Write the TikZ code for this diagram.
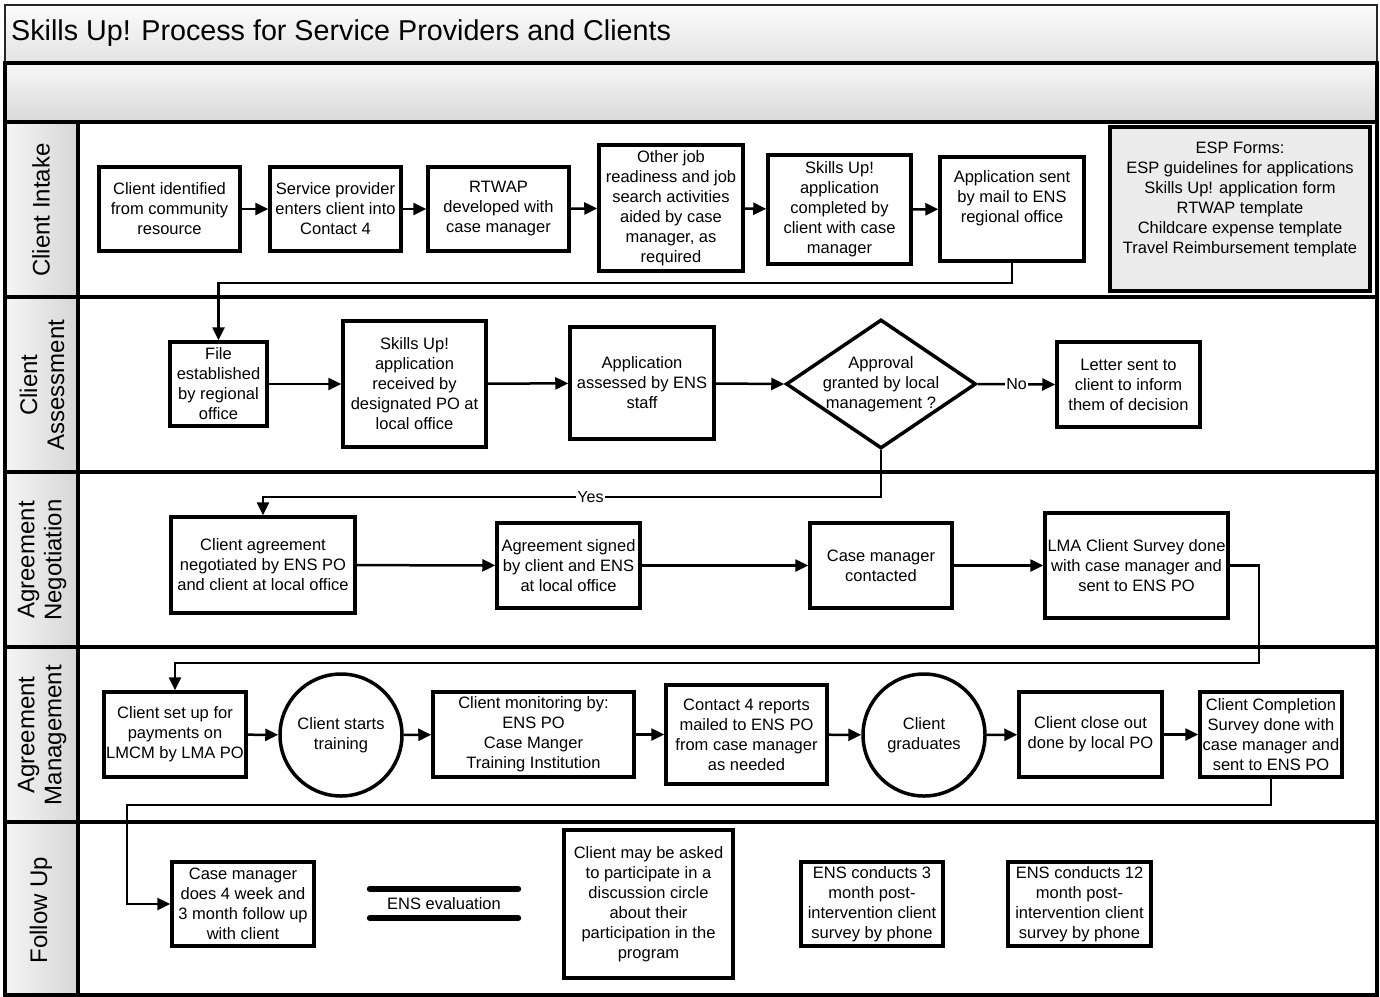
\documentclass[tikz,border=0pt]{standalone}
\usepackage{fontspec}
\setmainfont{Liberation Sans}
\usetikzlibrary{arrows.meta,shapes.geometric,calc}
\begin{document}
\begin{tikzpicture}[x=1pt,y=-1pt,
  box/.style={draw, line width=3.5pt, fill=white, align=center, inner sep=1pt,
    font=\fontsize{16.5}{20}\selectfont},
  circ/.style={draw, circle, line width=3.5pt, fill=white, align=center, inner sep=0pt,
    minimum size=122pt, font=\fontsize{16.5}{20}\selectfont},
  dia/.style={draw, diamond, line width=3.5pt, fill=white, inner sep=0pt,
    minimum width=190pt, minimum height=129pt},
  txt/.style={align=center, inner sep=0pt, font=\fontsize{16.5}{20}\selectfont},
  conn/.style={line width=2.5pt, -{Triangle[length=13pt,width=12pt]}},
  lbl/.style={fill=white, inner sep=1pt, font=\fontsize{16}{19}\selectfont},
  laneline/.style={line width=3.5pt, black},
  lanelbl/.style={align=center, inner sep=0pt, font=\fontsize{24}{27}\selectfont},
  dsline/.style={line width=6pt, line cap=round}
]
\useasboundingbox (0,0) rectangle (1380,996);
% backgrounds
\shade[top color=gray!3, bottom color=gray!22] (5,5) rectangle (1377,63);
\shade[top color=gray!6, bottom color=gray!30] (5,63) rectangle (1377,122);
\fill[white] (78,122) rectangle (1377,995);
\foreach \ya/\yb in {122/297,297/472,472/647,647/822,822/995}{
  \shade[left color=gray!8, right color=gray!32] (5,\ya) rectangle (78,\yb);
}
\draw[line width=1.5pt, gray!30!black] (5,5) rectangle (1377,63);
\node[anchor=west, inner sep=0pt, font=\fontsize{28.7}{34}\selectfont] (title) at (11,33) {Skills Up! Process for Service Providers and Clients};
% lane lines
\draw[laneline] (5,63) rectangle (1377,995);
\foreach \y in {122,297,472,647,822}{ \draw[laneline] (5,\y) -- (1377,\y); }
\draw[laneline] (78,122) -- (78,995);
% lane labels
\node[lanelbl, rotate=90] (L1) at (41,210) {Client Intake};
\node[lanelbl, rotate=90] (L2) at (42,385) {Client\\Assessment};
\node[lanelbl, rotate=90] (L3) at (42,560) {Agreement\\Negotiation};
\node[lanelbl, rotate=90] (L4) at (42,735) {Agreement\\Management};
\node[lanelbl, rotate=90] (L5) at (41,910) {Follow Up};

% Client Intake
\node[box, minimum width=141pt, minimum height=84pt] (n1) at (169.5,209) {Client identified\\from community\\resource};
\node[box, minimum width=131pt, minimum height=84pt] (n2) at (335.5,209) {Service provider\\enters client into\\Contact 4};
\node[box, minimum width=141pt, minimum height=84pt] (n3) at (498.5,209) {RTWAP\\developed with\\case manager};
\node[box, minimum width=144pt, minimum height=126pt] (n4) at (671,208) {Other job\\readiness and job\\search activities\\aided by case\\manager, as\\required};
\node[box, minimum width=143pt, minimum height=109pt] (n5) at (839.5,209.5) {Skills Up!\\application\\completed by\\client with case\\manager};
\node[box, minimum width=144pt, minimum height=104pt] (n6) at (1012,209) {};
\node[txt] (n6t) at (1012,198) {Application sent\\by mail to ENS\\regional office};
\node[box, fill=gray!15, minimum width=260pt, minimum height=164pt] (esp) at (1240,209) {};
\node[txt] (espt) at (1240,199) {ESP Forms:\\ESP guidelines for applications\\Skills Up! application form\\RTWAP template\\Childcare expense template\\Travel Reimbursement template};

\draw[conn] (n1) -- (n2);
\draw[conn] (n2) -- (n3);
\draw[conn] (n3) -- (n4);
\draw[conn] (n4) -- (n5);
\draw[conn] (n5) -- (n6);

% Client Assessment
\node[box, minimum width=97pt, minimum height=84pt] (f1) at (218.5,384) {File\\established\\by regional\\office};
\node[box, minimum width=143pt, minimum height=126pt] (f2) at (414.5,384) {Skills Up!\\application\\received by\\designated PO at\\local office};
\node[box, minimum width=144pt, minimum height=112pt] (f3) at (642,383) {Application\\assessed by ENS\\staff};
\node[dia] (d1) at (881,384) {};
\node[txt] (d1t) at (881,384) {Approval\\granted by local\\management ?};
\node[box, minimum width=143pt, minimum height=85pt] (f5) at (1128.5,384.5) {Letter sent to\\client to inform\\them of decision};

\draw[conn] (n6.south) -- ++(0,20) -| (f1.north);
\draw[conn] (f1) -- (f2);
\draw[conn] (f2) -- (f3);
\draw[conn] (f3) -- (d1.west);
\draw[conn] (d1.east) -- node[lbl] {No} (f5.west);

% Agreement Negotiation
\node[box, minimum width=184pt, minimum height=96pt] (g1) at (263,565) {Client agreement\\negotiated by ENS PO\\and client at local office};
\node[box, minimum width=143pt, minimum height=85pt] (g2) at (568.5,565.5) {Agreement signed\\by client and ENS\\at local office};
\node[box, minimum width=142pt, minimum height=85pt] (g3) at (881,565.5) {Case manager\\contacted};
\node[box, minimum width=183pt, minimum height=105pt] (g4) at (1136.5,565.5) {LMA Client Survey done\\with case manager and\\sent to ENS PO};

\coordinate (cy) at (881,497);
\draw[conn] (d1.south) -- (cy) -| node[lbl, pos=0.235] {Yes} (g1.north);
\draw[conn] (g1) -- (g2);
\draw[conn] (g2) -- (g3);
\draw[conn] (g3) -- (g4);

% Agreement Management
\node[box, minimum width=142pt, minimum height=85pt] (h1) at (175,734.5) {Client set up for\\payments on\\LMCM by LMA PO};
\node[circ] (h2) at (341,735) {Client starts\\training};
\node[box, minimum width=201pt, minimum height=85pt] (h3) at (533.5,734.5) {Client monitoring by:\\ENS PO\\Case Manger\\Training Institution};
\node[box, minimum width=161pt, minimum height=99pt] (h4) at (746.5,734.5) {Contact 4 reports\\mailed to ENS PO\\from case manager\\as needed};
\node[circ] (h5) at (924,735) {Client\\graduates};
\node[box, minimum width=143pt, minimum height=85pt] (h6) at (1090.5,734.5) {Client close out\\done by local PO};
\node[box, minimum width=142pt, minimum height=85pt] (h7) at (1271,734.5) {Client Completion\\Survey done with\\case manager and\\sent to ENS PO};

\coordinate (c1) at (1259,663);
\draw[conn] (g4.east) -| (c1) -| (h1.north);
\draw[conn] (h1) -- (h2);
\draw[conn] (h2) -- (h3);
\draw[conn] (h3) -- (h4);
\draw[conn] (h4) -- (h5);
\draw[conn] (h5) -- (h6);
\draw[conn] (h6) -- (h7);

% Follow Up
\node[box, minimum width=142pt, minimum height=84pt] (k1) at (243,904) {Case manager\\does 4 week and\\3 month follow up\\with client};
\node[txt, minimum width=148pt, minimum height=29pt] (ds) at (444,903.5) {ENS evaluation};
\draw[dsline] (ds.north west) -- (ds.north east);
\draw[dsline] (ds.south west) -- (ds.south east);
\node[box, minimum width=169pt, minimum height=148pt] (k3) at (648.5,904) {Client may be asked\\to participate in a\\discussion circle\\about their\\participation in the\\program};
\node[box, minimum width=142pt, minimum height=84pt] (k4) at (872,904) {ENS conducts 3\\month post-\\intervention client\\survey by phone};
\node[box, minimum width=143pt, minimum height=84pt] (k5) at (1079.5,904) {ENS conducts 12\\month post-\\intervention client\\survey by phone};

\coordinate (c2) at (127,805);
\draw[conn] (h7.south) |- (c2) |- (k1.west);
\end{tikzpicture}
\end{document}
